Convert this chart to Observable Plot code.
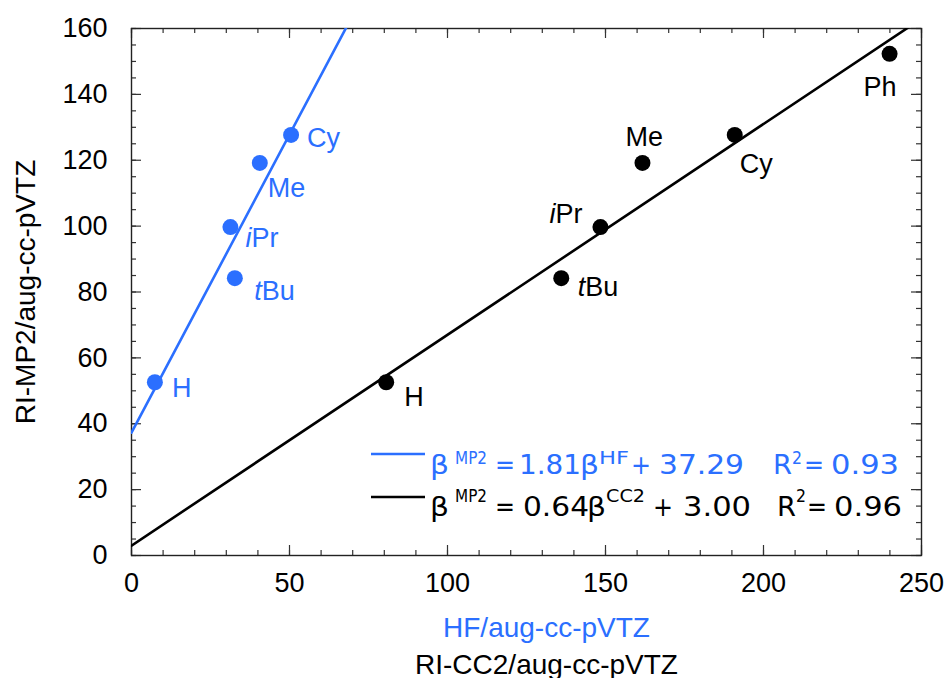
<!DOCTYPE html>
<html><head><meta charset="utf-8">
<script src="https://cdn.jsdelivr.net/npm/d3@7"></script>
<script src="https://cdn.jsdelivr.net/npm/@observablehq/plot@0.6"></script>
<style>body{margin:0;background:#fff}</style>
</head><body><div id="chart"></div>
<script>
// ---- data ----
const substituents = ["H", "Me", "iPr", "tBu", "Cy", "Ph"];
const labelPrefix  = ["", "", "i", "t", "", ""];
const labelName    = ["H", "Me", "Pr", "Bu", "Cy", "Ph"];
const mp2Values    = [52.6, 119.2, 99.7, 84.2, 127.7, 152.3];
const hfValues     = [7.4, 40.6, 31.3, 32.7, 50.5, null];
const cc2Values    = [80.6, 161.7, 148.4, 136.0, 190.9, 239.9];
const fitSlopes     = [1.81, 0.64];
const fitIntercepts = [37.29, 3.00];
const fitR2         = [0.93, 0.96];
const fitSup        = ["HF", "CC2"];
const xMajorTicks = [0, 50, 100, 150, 200, 250];
const yMajorTicks = [0, 20, 40, 60, 80, 100, 120, 140, 160];
const xTitleHF  = "HF/aug-cc-pVTZ";
const xTitleCC2 = "RI-CC2/aug-cc-pVTZ";
const yTitle    = "RI-MP2/aug-cc-pVTZ";

// ---- styling / placement ----
const BLUE = "#2b6fff", BLACK = "#000";
const W = 946, H = 678, mT = 28, mR = 25, mB = 123, mL = 131;
const innerW = W - mL - mR, innerH = H - mT - mB;
const xDomain = [0, 250], yDomain = [0, 160];
const xMinor = d3.range(0, 251, 10), yMinor = d3.range(0, 161, 5);
const blueOffsets  = {H: [17, 15], Me: [8, 34], iPr: [21, 20], tBu: [27, 22], Cy: [16, 12]};
const blackOffsets = {H: [18, 24], Me: [-17, -17], iPr: [-45, -4], tBu: [24, 18], Cy: [5, 38], Ph: [-26, 42]};

const rows = substituents.map((s, i) => ({
  s, prefix: labelPrefix[i], name: labelName[i],
  mp2: mp2Values[i], hf: hfValues[i], cc2: cc2Values[i]
}));
const fits = fitSlopes.map((m, i) => [
  {x: xDomain[0], y: fitIntercepts[i] + m * xDomain[0]},
  {x: xDomain[1], y: fitIntercepts[i] + m * xDomain[1]}
]);

function labelMarks(xKey, color, offsets) {
  const marks = [];
  for (const r of rows) {
    if (r[xKey] == null || !offsets[r.s]) continue;
    const [dx, dy] = offsets[r.s];
    marks.push(Plot.text([r], {x: xKey, y: "mp2", text: "name", textAnchor: "start", lineAnchor: "bottom",
      dx, dy, fill: color, fontSize: 27, fontFamily: "Liberation Sans"}));
    if (r.prefix) marks.push(Plot.text([r], {x: xKey, y: "mp2", text: "prefix", textAnchor: "end", lineAnchor: "bottom",
      dx, dy, fill: color, fontSize: 27, fontStyle: "italic", fontFamily: "Liberation Sans"}));
  }
  return marks;
}

const tickColor = "#333";
const plot = Plot.plot({
  width: W, height: H,
  marginTop: mT, marginRight: mR, marginBottom: mB, marginLeft: mL,
  style: {fontFamily: "Liberation Sans", fontSize: "27px", background: "#fff", color: "#000"},
  x: {domain: xDomain, label: null},
  y: {domain: yDomain, label: null},
  marks: [
    // minor & major inward ticks on all four sides
    Plot.tickX(xMinor, {x: d => d, insetTop: innerH - 5, stroke: tickColor, strokeWidth: 1.2}),
    Plot.tickX(xMinor, {x: d => d, insetBottom: innerH - 5, stroke: tickColor, strokeWidth: 1.2}),
    Plot.tickX(xMajorTicks, {x: d => d, insetTop: innerH - 10, stroke: tickColor, strokeWidth: 1.2}),
    Plot.tickX(xMajorTicks, {x: d => d, insetBottom: innerH - 10, stroke: tickColor, strokeWidth: 1.2}),
    Plot.tickY(yMinor, {y: d => d, insetRight: innerW - 5, stroke: tickColor, strokeWidth: 1.2}),
    Plot.tickY(yMinor, {y: d => d, insetLeft: innerW - 5, stroke: tickColor, strokeWidth: 1.2}),
    Plot.tickY(yMajorTicks, {y: d => d, insetRight: innerW - 10, stroke: tickColor, strokeWidth: 1.2}),
    Plot.tickY(yMajorTicks, {y: d => d, insetLeft: innerW - 10, stroke: tickColor, strokeWidth: 1.2}),
    Plot.axisX({ticks: xMajorTicks, tickSize: 0, tickPadding: 17, fontSize: 27, label: null}),
    Plot.axisY({ticks: yMajorTicks, tickSize: 0, tickPadding: 24, fontSize: 27, label: null}),
    Plot.frame({stroke: "#222", strokeWidth: 1.4}),
    // fit lines
    Plot.line(fits[0], {x: "x", y: "y", stroke: BLUE, strokeWidth: 2.6, clip: true}),
    Plot.line(fits[1], {x: "x", y: "y", stroke: BLACK, strokeWidth: 2.6, clip: true}),
    // points
    Plot.dot(rows.filter(r => r.hf != null), {x: "hf", y: "mp2", r: 8, fill: BLUE}),
    Plot.dot(rows, {x: "cc2", y: "mp2", r: 8, fill: BLACK}),
    ...labelMarks("hf", BLUE, blueOffsets),
    ...labelMarks("cc2", BLACK, blackOffsets),
    // axis titles
    Plot.text([xTitleHF], {frameAnchor: "bottom", textAnchor: "middle", dx: 20, dy: 81, lineAnchor: "bottom", fill: BLUE, fontSize: 28}),
    Plot.text([xTitleCC2], {frameAnchor: "bottom", textAnchor: "middle", dx: 20, dy: 118, lineAnchor: "bottom", fill: BLACK, fontSize: 28}),
    Plot.text([yTitle], {frameAnchor: "left", textAnchor: "middle", rotate: -90, dx: -97, lineAnchor: "bottom", fill: BLACK, fontSize: 28})
  ]
});
document.getElementById("chart").append(plot);

// ---- legend with superscripts (pieces placed and sized to the reference) ----
const svg = d3.select(plot);
const lg = svg.append("g").attr("font-family", "DejaVu Sans").attr("text-anchor", "start");
const legendRows = [
  {color: BLUE, lineY: 454, base: 474, supBase: 464, pieces: [
    {t: "β", x: 430, w: 19}, {t: "MP2", x: 455, w: 32, sup: true},
    {t: "=", x: 495, w: 20}, {t: fitSlopes[0].toFixed(2), x: 519, w: 62},
    {t: "β", x: 580, w: 19}, {t: fitSup[0], x: 599, w: 30, sup: true},
    {t: "+", x: 631, w: 20}, {t: fitIntercepts[0].toFixed(2), x: 659, w: 85},
    {t: "R", x: 773, w: 19}, {t: "2", x: 792, w: 10, sup: true},
    {t: "=", x: 804, w: 20}, {t: fitR2[0].toFixed(2), x: 831, w: 68}]},
  {color: BLACK, lineY: 497, base: 516, supBase: 502, pieces: [
    {t: "β", x: 430, w: 19}, {t: "MP2", x: 455, w: 32, sup: true},
    {t: "=", x: 495, w: 20}, {t: fitSlopes[1].toFixed(2), x: 523, w: 66},
    {t: "β", x: 587, w: 19}, {t: fitSup[1], x: 606, w: 39, sup: true},
    {t: "+", x: 653, w: 20}, {t: fitIntercepts[1].toFixed(2), x: 683, w: 68},
    {t: "R", x: 777, w: 19}, {t: "2", x: 796, w: 10, sup: true},
    {t: "=", x: 807, w: 20}, {t: fitR2[1].toFixed(2), x: 834, w: 68}]}
];
for (const row of legendRows) {
  lg.append("line").attr("x1", 371).attr("x2", 425).attr("y1", row.lineY).attr("y2", row.lineY)
    .attr("stroke", row.color).attr("stroke-width", 2.4);
  for (const p of row.pieces) {
    lg.append("text").attr("x", p.x).attr("y", p.sup ? row.supBase : row.base)
      .attr("font-size", p.sup ? 18 : 27).attr("fill", row.color)
      .attr("textLength", p.w).attr("lengthAdjust", "spacingAndGlyphs").text(p.t);
  }
}
</script>
</body></html>
